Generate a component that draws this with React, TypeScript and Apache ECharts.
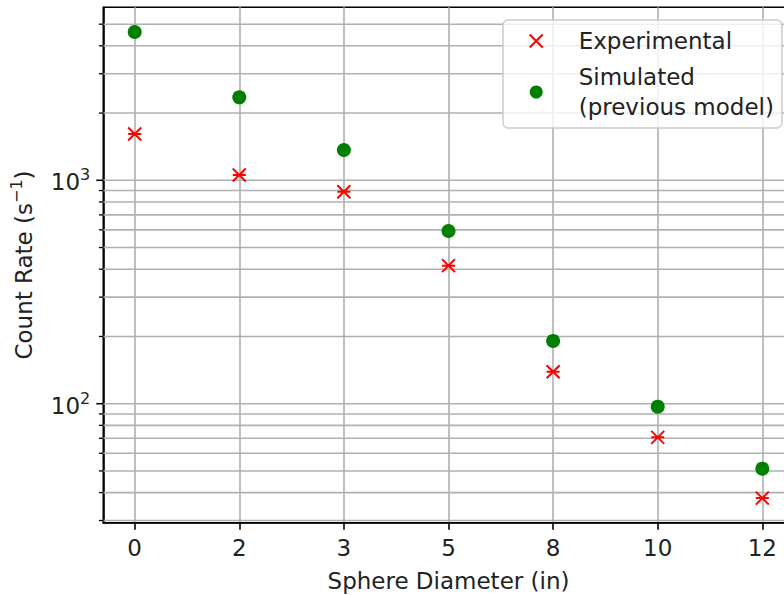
import React, { useEffect, useRef } from "react";
import * as echarts from "echarts";

// Sphere diameters (inches), shown as evenly spaced categories
const categories: string[] = ["0", "2", "3", "5", "8", "10", "12"];
// Measured count rates (1/s)
const experimental: number[] = [1612, 1056, 889, 415, 139, 70.7, 37.8];
// Count rates predicted by the previous model (1/s)
const simulated: number[] = [4612, 2352, 1366, 593, 191, 97, 51.2];
// Labelled decades on the log axis
const majorYTicks: number[] = [100, 1000];
// Minor (unlabelled) ticks and gridlines on the log axis
const minorYTicks: number[] = [
  30, 40, 50, 60, 70, 80, 90,
  200, 300, 400, 500, 600, 700, 800, 900,
  2000, 3000, 4000, 5000,
];

const X_MIN = -0.3;
const X_MAX = 6.3;
const Y_MIN = 29.33;
const Y_MAX = 5950;

const FONT = "DejaVu Sans";
const TEXT = "#222222";
const GRID = "#b0b0b0";
const FS = 23;
const FS_SUP = 16;
const X_SYMBOL = "path://M0,0L10,10M0,10L10,0M0,5L10,5";
const X_ICON = "path://M0,0L10,10M0,10L10,0";

export default function App() {
  const ref = useRef<HTMLDivElement | null>(null);

  useEffect(() => {
    if (!ref.current) return;
    const chart = echarts.init(ref.current, null, { renderer: "svg" });
    const tickIdx = categories.map((_, i) => i);
    const yTickData = [
      ...majorYTicks.map((v) => [0, v, 1]),
      ...minorYTicks.map((v) => [0, v, 0]),
    ];

    chart.setOption({
      animation: false,
      backgroundColor: "#ffffff",
      grid: {
        left: 103.3,
        top: 7.3,
        right: -9.7,
        bottom: 72.3,
        containLabel: false,
        outerBoundsMode: "none",
        show: true,
        borderColor: "#000000",
        borderWidth: 1.6,
        backgroundColor: "transparent",
      },
      legend: {
        orient: "vertical",
        left: 503,
        top: 20,
        itemWidth: 49,
        itemHeight: 13,
        itemGap: 6,
        padding: [6, 8, 6, 25.7],
        backgroundColor: "rgba(255,255,255,0.8)",
        borderColor: "#cccccc",
        borderWidth: 1.5,
        borderRadius: 5,
        textStyle: {
          fontFamily: FONT,
          fontSize: FS,
          color: TEXT,
          lineHeight: 30,
          padding: [0, 0, 0, 13],
        },
        data: [
          {
            name: "Experimental",
            icon: X_ICON,
            itemStyle: { color: "#ff0000", borderColor: "#ff0000", borderWidth: 2, opacity: 1 },
          },
          {
            name: "Simulated\n(previous model)",
            icon: "circle",
            itemStyle: { color: "#008000", borderWidth: 0, opacity: 1 },
          },
        ],
      },
      xAxis: {
        type: "value",
        min: X_MIN,
        max: X_MAX,
        axisLine: { show: true, onZero: false, lineStyle: { color: "#000000", width: 1.6 } },
        axisTick: {
          show: true,
          length: 7,
          customValues: tickIdx,
          lineStyle: { color: "#000000", width: 1.6 },
        },
        axisLabel: {
          customValues: tickIdx,
          formatter: (v: number) => categories[Math.round(v)] ?? "",
          fontFamily: FONT,
          fontSize: FS,
          lineHeight: 27,
          color: TEXT,
          margin: 12,
        },
        splitLine: { show: true, lineStyle: { color: GRID, width: 1.6 } },
        name: "Sphere Diameter (in)",
        nameLocation: "middle",
        nameGap: 45,
        nameTextStyle: { fontFamily: FONT, fontSize: FS, lineHeight: 27, color: TEXT },
      },
      yAxis: {
        type: "log",
        logBase: 10,
        min: Y_MIN,
        max: Y_MAX,
        axisLine: { show: true, onZero: false, lineStyle: { color: "#000000", width: 1.6 } },
        axisTick: { show: false },
        axisLabel: {
          margin: 13,
          formatter: (v: number) => {
            const e = Math.log10(v);
            if (Math.abs(e - Math.round(e)) > 1e-6) return "";
            return `{b|10}{s|${Math.round(e)}}`;
          },
          rich: {
            b: { fontFamily: FONT, fontSize: FS, lineHeight: 27, color: TEXT, verticalAlign: "bottom" },
            s: { fontFamily: FONT, fontSize: FS_SUP, lineHeight: 16, color: TEXT, verticalAlign: "top" },
          },
        },
        splitLine: { show: false },
        name: "{a|Count Rate (s}{s|−1}{a|)}",
        nameLocation: "middle",
        nameGap: 68,
        nameTextStyle: {
          rich: {
            a: { fontFamily: FONT, fontSize: FS, lineHeight: 27, color: TEXT, verticalAlign: "bottom" },
            s: { fontFamily: FONT, fontSize: FS_SUP, lineHeight: 16, color: TEXT, verticalAlign: "top" },
          },
        },
      },
      series: [
        {
          // y ticks and horizontal gridlines (major and minor) of the log axis
          type: "custom",
          silent: true,
          z: 1,
          clip: false,
          data: yTickData,
          renderItem: (_params: any, api: any) => {
            const v = api.value(1);
            const major = api.value(2) === 1;
            const a = api.coord([X_MIN, v]);
            const b = api.coord([X_MAX, v]);
            const len = major ? 7 : 4.4;
            return {
              type: "group",
              children: [
                {
                  type: "line",
                  shape: { x1: a[0], y1: a[1], x2: b[0], y2: b[1] },
                  style: { stroke: GRID, lineWidth: 1.6 },
                },
                {
                  type: "line",
                  shape: { x1: a[0] - len, y1: a[1], x2: a[0], y2: a[1] },
                  style: { stroke: "#000000", lineWidth: major ? 1.6 : 1.3 },
                },
              ],
            };
          },
        },
        {
          name: "Experimental",
          type: "scatter",
          z: 3,
          symbol: X_SYMBOL,
          symbolSize: 13,
          itemStyle: { color: "#ff0000", borderColor: "#ff0000", borderWidth: 2, opacity: 1 },
          data: experimental.map((v, i) => [i, v]),
        },
        {
          name: "Simulated\n(previous model)",
          type: "scatter",
          z: 3,
          symbol: "circle",
          symbolSize: 14,
          itemStyle: { color: "#008000", opacity: 1 },
          data: simulated.map((v, i) => [i, v]),
        },
      ],
    });

    return () => chart.dispose();
  }, []);

  return (
    <div
      ref={ref}
      style={{ position: "fixed", left: 0, top: 0, width: 784, height: 595, background: "#fff" }}
    />
  );
}
